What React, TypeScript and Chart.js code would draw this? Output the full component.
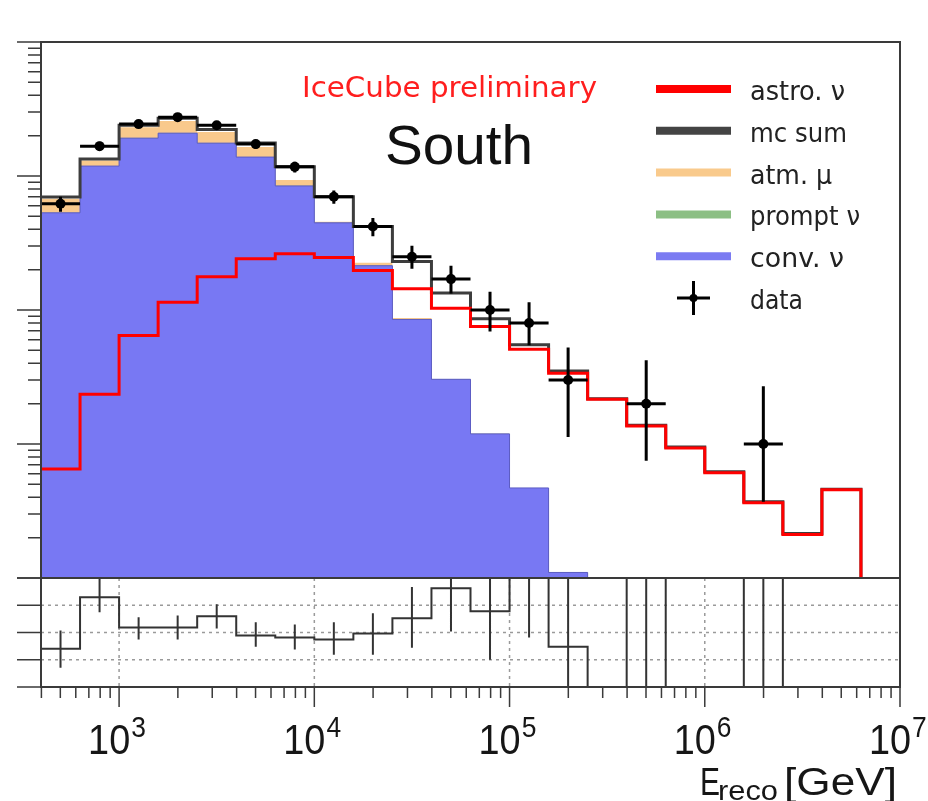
import React, { useEffect, useRef } from 'react';
import { Chart, registerables } from 'chart.js';

Chart.register(...registerables);

// ---------- data ----------
// bin edges, as log10(E_reco / GeV)
const logBinEdges = [2.6, 2.8, 3.0, 3.2, 3.4, 3.6, 3.8, 4.0, 4.2, 4.4, 4.6, 4.8, 5.0, 5.2, 5.4, 5.6, 5.8, 6.0, 6.2, 6.4, 6.6, 6.8];

const convNu = [53.1, 118.6, 191.7, 208.8, 175.9, 138.4, 84.3, 44.7, 21.4, 8.5, 3.04, 1.19, 0.47, 0.11, 0, 0, 0, 0, 0, 0, 0];
const promptNu = [0.1, 0.2, 0.3, 0.3, 0.3, 0.3, 0.2, 0.15, 0.08, 0.02, 0.004, 0.001, 0.0003, 0, 0, 0, 0, 0, 0, 0, 0];
const atmMu = [14.3, 11.5, 39.5, 48.0, 37.0, 25.8, 8.8, 0.8, 1.0, 0.2, 0, 0, 0, 0, 0, 0, 0, 0, 0, 0, 0];
const astroNu = [0.652, 2.35, 6.46, 11.4, 17.7, 24.1, 26.3, 24.6, 19.7, 14.4, 10.3, 7.54, 5.1, 3.37, 2.16, 1.36, 0.934, 0.609, 0.364, 0.211, 0.455];
const mcSum = [69.8, 133.7, 239.4, 270, 222, 176, 117, 70, 42, 23, 13.4, 8.6, 5.5, 3.5, 2.18, 1.38, 0.95, 0.62, 0.37, 0.215, 0.46];

const dataCounts = [62, 167, 244, 275, 239, 173, 117, 70, 42, 25, 17, 10, 8, 3, 0, 2, 0, 0, 1, 0, 0];
const dataLow = [54, 154, 228, 258, 224, 160, 106, 62, 35.5, 20.3, 13.3, 6.9, 5.45, 1.13, 0, 0.75, 0, 0, 0.37, 0, 0];
const dataHigh = [70, 180, 260, 292, 255, 186, 128, 78, 48.5, 30.2, 21.4, 13.7, 11.4, 5.26, 0, 4.21, 0, 0, 2.7, 0, 0];

const ratio = [0.852, 1.324, 1.046, 1.046, 1.148, 0.972, 0.954, 0.935, 0.991, 1.13, 1.407, 1.194, 1.56, 0.87, 0, 1.56, 0, 0, 2.7, 0, 0];
const ratioLow = [0.676, 1.185, 0.935, 0.935, 1.037, 0.87, 0.843, 0.796, 0.796, 0.861, 1.009, 0.75, 0.954, 0.3, 0, 0.3, 0, 0, 0.3, 0, 0];
const ratioHigh = [1.019, 1.55, 1.139, 1.157, 1.259, 1.093, 1.074, 1.093, 1.176, 1.417, 1.6, 1.7, 2.2, 1.8, 0, 3.0, 0, 0, 5.0, 0, 0];

const xTickExponents = [3, 4, 5, 6, 7];
const yDecades = [-1, 0, 1, 2, 3];
const ratioTicks = [0.5, 0.75, 1.0, 1.25, 1.5];
const ratioGrid = [0.75, 1.0, 1.25];

const legendItems = [
  { label: 'astro. ν', color: '#FF0000', kind: 'line', textEnd: 845 },
  { label: 'mc sum', color: '#444444', kind: 'line', textEnd: 847 },
  { label: 'atm. μ', color: '#F9CA8C', kind: 'line', textEnd: 832 },
  { label: 'prompt ν', color: '#8CBF84', kind: 'line', textEnd: 860 },
  { label: 'conv. ν', color: '#7B7BF2', kind: 'line', textEnd: 844 },
  { label: 'data', color: '#000000', kind: 'cross', textEnd: 803 },
];

// ---------- helpers ----------
const FLOOR = 1e-4;
const edge = (i: number) => Math.pow(10, logBinEdges[i]);
const center = (i: number) => Math.pow(10, (logBinEdges[i] + logBinEdges[i + 1]) / 2);
const nBins = logBinEdges.length - 1;

function stepPoints(vals: number[], floor: number, dropEnd: boolean) {
  const pts: { x: number; y: number }[] = [];
  for (let i = 0; i < nBins; i++) pts.push({ x: edge(i), y: Math.max(vals[i], floor) });
  pts.push({ x: edge(nBins), y: Math.max(vals[nBins - 1], floor) });
  if (dropEnd) pts.push({ x: edge(nBins), y: floor });
  return pts;
}

function fitText(ctx: CanvasRenderingContext2D, text: string, x: number, y: number, font: string, width?: number) {
  ctx.save();
  ctx.font = font;
  ctx.textAlign = 'left';
  ctx.textBaseline = 'alphabetic';
  const m = ctx.measureText(text).width;
  const s = width ? width / m : 1;
  ctx.translate(x, y);
  ctx.scale(s, 1);
  ctx.fillText(text, 0, 0);
  ctx.restore();
}

const FRAME = '#3a3a3a';

const upperPlugin = {
  id: 'upperDecor',
  afterDraw(chart: any) {
    const ctx: CanvasRenderingContext2D = chart.ctx;
    const { left, right, top, bottom } = chart.chartArea;
    const ys = chart.scales.y;
    ctx.save();
    ctx.strokeStyle = FRAME;
    ctx.lineWidth = 2;
    ctx.strokeRect(left, top, right - left, bottom - top);
    ctx.beginPath();
    for (const d of yDecades) {
      for (let m = 1; m <= 9; m++) {
        const v = m * Math.pow(10, d);
        if (v > ys.max * 1.0001 || v < ys.min * 0.9999) continue;
        const py = ys.getPixelForValue(v);
        ctx.moveTo(m === 1 ? left - 24 : left - 13, py);
        ctx.lineTo(left, py);
      }
    }
    ctx.lineWidth = 1.5;
    ctx.stroke();

    // titles
    ctx.fillStyle = '#FF1E1E';
    fitText(ctx, 'IceCube preliminary', 302, 97, '29px "DejaVu Sans"', 295);
    ctx.fillStyle = '#111111';
    fitText(ctx, 'South', 385, 164, '56px "Liberation Sans"', 148);

    // legend
    legendItems.forEach((it, i) => {
      const cy = 89 + i * 41.8;
      if (it.kind === 'line') {
        ctx.strokeStyle = it.color;
        ctx.lineWidth = 8;
        ctx.beginPath();
        ctx.moveTo(656, cy);
        ctx.lineTo(731, cy);
        ctx.stroke();
      } else {
        ctx.strokeStyle = '#000';
        ctx.lineWidth = 3;
        ctx.beginPath();
        ctx.moveTo(677, cy);
        ctx.lineTo(710, cy);
        ctx.moveTo(693.5, cy - 17);
        ctx.lineTo(693.5, cy + 17);
        ctx.stroke();
        ctx.fillStyle = '#000';
        ctx.beginPath();
        ctx.arc(693.5, cy, 4, 0, Math.PI * 2);
        ctx.fill();
      }
      ctx.fillStyle = '#222222';
      fitText(ctx, it.label, 750, cy + 11, '27px "DejaVu Sans"', it.textEnd - 750);
    });
    ctx.restore();
  },
};

const lowerPlugin = {
  id: 'lowerDecor',
  beforeDatasetsDraw(chart: any) {
    const ctx: CanvasRenderingContext2D = chart.ctx;
    const { left, right, top, bottom } = chart.chartArea;
    const xs = chart.scales.x;
    const ys = chart.scales.y;
    ctx.save();
    ctx.strokeStyle = '#9a9a9a';
    ctx.lineWidth = 1.5;
    ctx.setLineDash([3, 4]);
    ctx.beginPath();
    for (const g of ratioGrid) {
      const py = ys.getPixelForValue(g);
      ctx.moveTo(left, py);
      ctx.lineTo(right, py);
    }
    for (const e of xTickExponents) {
      const px = xs.getPixelForValue(Math.pow(10, e));
      if (px >= right - 1) continue;
      ctx.moveTo(px, top);
      ctx.lineTo(px, bottom);
    }
    ctx.stroke();
    ctx.restore();
  },
  afterDraw(chart: any) {
    const ctx: CanvasRenderingContext2D = chart.ctx;
    const { left, right, top, bottom } = chart.chartArea;
    const xs = chart.scales.x;
    const ys = chart.scales.y;
    ctx.save();
    ctx.strokeStyle = FRAME;
    ctx.lineWidth = 2;
    ctx.strokeRect(left, top, right - left, bottom - top);
    ctx.lineWidth = 1.5;
    ctx.beginPath();
    for (const t of ratioTicks) {
      const py = ys.getPixelForValue(t);
      ctx.moveTo(left - 24, py);
      ctx.lineTo(left, py);
    }
    // x ticks on bottom axis
    for (let d = 2; d <= 7; d++) {
      for (let m = 1; m <= 9; m++) {
        const v = m * Math.pow(10, d);
        if (v < xs.min * 0.9999 || v > xs.max * 1.0001) continue;
        const px = xs.getPixelForValue(v);
        ctx.moveTo(px, bottom);
        ctx.lineTo(px, bottom + (m === 1 ? 20 : 11));
      }
    }
    ctx.stroke();

    // tick labels 10^n
    ctx.fillStyle = '#161616';
    for (const e of xTickExponents) {
      const px = xs.getPixelForValue(Math.pow(10, e));
      ctx.font = '43px "Liberation Sans"';
      const w = ctx.measureText('10').width * 0.88;
      ctx.save();
      ctx.translate(px - 31, bottom + 67);
      ctx.scale(0.88, 1);
      ctx.fillText('10', 0, 0);
      ctx.restore();
      ctx.save();
      ctx.font = '30px "Liberation Sans"';
      ctx.translate(px - 31 + w + 1, bottom + 50);
      ctx.scale(0.88, 1);
      ctx.fillText(String(e), 0, 0);
      ctx.restore();
    }

    // axis title E_reco [GeV]
    fitText(ctx, 'E', 700, bottom + 108, '39px "Liberation Sans"', 20);
    fitText(ctx, 'reco', 718, bottom + 113, '28px "Liberation Sans"', 60);
    fitText(ctx, '[GeV]', 784, bottom + 108, '39px "Liberation Sans"', 113);
    ctx.restore();
  },
};

export default function App() {
  const upperRef = useRef<HTMLCanvasElement | null>(null);
  const lowerRef = useRef<HTMLCanvasElement | null>(null);

  useEffect(() => {
    const xMin = Math.pow(10, logBinEdges[0]);
    const xMax = 1e7;

    const convTop = convNu;
    const promptTop = convNu.map((v, i) => v + promptNu[i]);
    const atmTop = convNu.map((v, i) => v + promptNu[i] + atmMu[i]);

    const markers: any[] = [];
    const xErr: any[] = [];
    const yErr: any[] = [];
    const rErr: any[] = [];
    for (let i = 0; i < nBins; i++) {
      if (dataCounts[i] <= 0) continue;
      const c = center(i);
      markers.push({ x: c, y: dataCounts[i] });
      xErr.push({ x: edge(i), y: dataCounts[i] }, { x: edge(i + 1), y: dataCounts[i] }, { x: edge(i + 1), y: null });
      yErr.push({ x: c, y: dataLow[i] }, { x: c, y: dataHigh[i] }, { x: c, y: null });
      rErr.push({ x: c, y: ratioLow[i] }, { x: c, y: ratioHigh[i] }, { x: c, y: null });
    }

    const lineBase = { pointRadius: 0, pointHoverRadius: 0, tension: 0 };

    const upper = new Chart(upperRef.current as HTMLCanvasElement, {
      type: 'line',
      data: {
        datasets: [
          { ...lineBase, label: 'data', data: markers, showLine: false, pointRadius: 5, pointBackgroundColor: '#000', pointBorderWidth: 0 },
          { ...lineBase, label: 'xerr', data: xErr, borderColor: '#000', borderWidth: 3, fill: false },
          { ...lineBase, label: 'yerr', data: yErr, borderColor: '#000', borderWidth: 3, fill: false },
          { ...lineBase, label: 'astro. ν', data: stepPoints(astroNu, FLOOR, true), stepped: true, borderColor: '#FF0000', borderWidth: 3, fill: false },
          { ...lineBase, label: 'mc sum', data: stepPoints(mcSum, FLOOR, true), stepped: true, borderColor: '#3d3d3d', borderWidth: 3, fill: false },
          { ...lineBase, label: 'conv. ν', data: stepPoints(convTop, FLOOR, true), stepped: true, borderColor: '#5c5cc4', borderWidth: 1, backgroundColor: '#7878F3', fill: 'start' },
          { ...lineBase, label: 'prompt ν', data: stepPoints(promptTop, FLOOR, true), stepped: true, borderWidth: 0, borderColor: 'rgba(0,0,0,0)', backgroundColor: '#8CBF84', fill: 'start' },
          { ...lineBase, label: 'atm. μ', data: stepPoints(atmTop, FLOOR, true), stepped: true, borderWidth: 0, borderColor: 'rgba(0,0,0,0)', backgroundColor: '#F9C98C', fill: 'start' },
        ],
      },
      options: {
        animation: false,
        responsive: false,
        maintainAspectRatio: false,
        devicePixelRatio: 1,
        events: [],
        layout: { padding: { left: 41, right: 28, top: 42, bottom: 12 } },
        scales: {
          x: { type: 'logarithmic', min: xMin, max: xMax, display: false },
          y: { type: 'logarithmic', min: 0.1, max: 1000, display: false },
        },
        plugins: { legend: { display: false }, tooltip: { enabled: false } },
      },
      plugins: [upperPlugin],
    } as any);

    const lower = new Chart(lowerRef.current as HTMLCanvasElement, {
      type: 'line',
      data: {
        datasets: [
          { ...lineBase, label: 'ratio err', data: rErr, borderColor: '#333', borderWidth: 2, fill: false },
          { ...lineBase, label: 'ratio', data: stepPoints(ratio, 0, false), stepped: true, borderColor: '#333', borderWidth: 2, fill: false },
        ],
      },
      options: {
        animation: false,
        responsive: false,
        maintainAspectRatio: false,
        devicePixelRatio: 1,
        events: [],
        layout: { padding: { left: 41, right: 28, top: 8, bottom: 114 } },
        scales: {
          x: { type: 'logarithmic', min: xMin, max: xMax, display: false },
          y: { type: 'linear', min: 0.5, max: 1.5, display: false },
        },
        plugins: { legend: { display: false }, tooltip: { enabled: false } },
      },
      plugins: [lowerPlugin],
    } as any);

    return () => {
      upper.destroy();
      lower.destroy();
    };
  }, []);

  return (
    <div style={{ position: 'absolute', left: 0, top: 0, width: 928, height: 801, background: '#fff', overflow: 'hidden' }}>
      <canvas ref={lowerRef} width={928} height={231} style={{ position: 'absolute', left: 0, top: 570, width: 928, height: 231 }} />
      <canvas ref={upperRef} width={928} height={590} style={{ position: 'absolute', left: 0, top: 0, width: 928, height: 590 }} />
    </div>
  );
}
